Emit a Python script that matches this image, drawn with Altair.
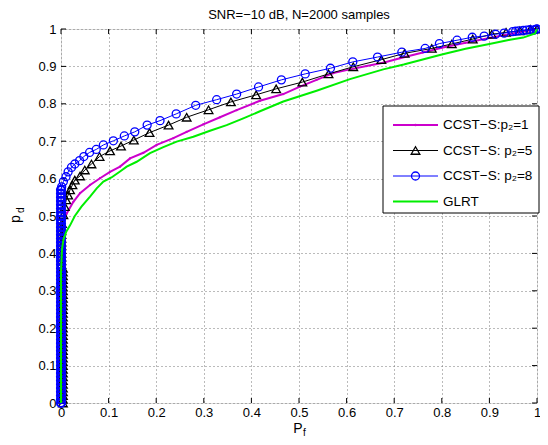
import altair as alt
import pandas as pd

# ---------------- data ----------------
tick_vals = [0.0, 0.1, 0.2, 0.3, 0.4, 0.5, 0.6, 0.7, 0.8, 0.9, 1.0]
title_text = "SNR=\u221210 dB, N=2000 samples"
legend_labels = ["CCST\u2212S:p\u2082=1", "CCST\u2212S: p\u2082=5", "CCST\u2212S: p\u2082=8", "GLRT"]

# CCST-S p2=1 (magenta, dot markers)
mag_x = [0.0, 0.0, 0.004, 0.012, 0.026, 0.040, 0.061, 0.082, 0.103, 0.124, 0.145, 0.173, 0.201,
         0.236, 0.264, 0.299, 0.334, 0.369, 0.418, 0.467, 0.502, 0.537, 0.572, 0.607, 0.642,
         0.677, 0.712, 0.760, 0.800, 0.850, 0.900, 0.950, 0.980, 1.0]
mag_y = [0.0, 0.45, 0.480, 0.507, 0.538, 0.561, 0.583, 0.601, 0.618, 0.632, 0.654, 0.669, 0.690,
         0.708, 0.725, 0.745, 0.764, 0.783, 0.808, 0.826, 0.846, 0.864, 0.882, 0.892, 0.901,
         0.910, 0.922, 0.937, 0.950, 0.963, 0.976, 0.988, 0.995, 1.0]

# CCST-S p2=5 (black, triangles)
blk_stack_x = [0.004] * 37 + [0.001] * 11
blk_stack_y = [0.00, 0.01, 0.02, 0.03, 0.04, 0.05, 0.06, 0.07, 0.08, 0.09, 0.10, 0.11, 0.12,
               0.13, 0.14, 0.15, 0.16, 0.17, 0.18, 0.19, 0.20, 0.21, 0.22, 0.23, 0.24, 0.25,
               0.26, 0.27, 0.28, 0.29, 0.30, 0.31, 0.32, 0.33, 0.34, 0.35, 0.36, 0.37, 0.38,
               0.39, 0.40, 0.41, 0.42, 0.43, 0.44, 0.45, 0.46, 0.47]
blk_x = [0.002, 0.005, 0.008, 0.011, 0.015, 0.019, 0.024, 0.029, 0.040, 0.050, 0.064, 0.081,
         0.103, 0.126, 0.153, 0.186, 0.226, 0.264, 0.310, 0.357, 0.410, 0.452, 0.507, 0.562,
         0.614, 0.673, 0.722, 0.779, 0.821, 0.865, 0.905, 0.935, 0.964, 0.986, 1.0]
blk_y = [0.480, 0.503, 0.525, 0.543, 0.556, 0.570, 0.583, 0.596, 0.607, 0.623, 0.639, 0.659,
         0.674, 0.687, 0.703, 0.723, 0.743, 0.764, 0.784, 0.805, 0.824, 0.840, 0.858, 0.880,
         0.899, 0.918, 0.935, 0.948, 0.960, 0.973, 0.986, 0.991, 0.995, 0.999, 1.0]

# CCST-S p2=8 (blue, circles)
blu_stack_x = [0.0] * 58
blu_stack_y = [0.00, 0.01, 0.02, 0.03, 0.04, 0.05, 0.06, 0.07, 0.08, 0.09, 0.10, 0.11, 0.12,
               0.13, 0.14, 0.15, 0.16, 0.17, 0.18, 0.19, 0.20, 0.21, 0.22, 0.23, 0.24, 0.25,
               0.26, 0.27, 0.28, 0.29, 0.30, 0.31, 0.32, 0.33, 0.34, 0.35, 0.36, 0.37, 0.38,
               0.39, 0.40, 0.41, 0.42, 0.43, 0.44, 0.45, 0.46, 0.47, 0.48, 0.49, 0.50, 0.51,
               0.52, 0.53, 0.54, 0.55, 0.56, 0.57]
blu_x = [0.0014, 0.005, 0.0105, 0.015, 0.022, 0.029, 0.039, 0.048, 0.060, 0.074, 0.089, 0.110,
         0.133, 0.155, 0.181, 0.208, 0.242, 0.283, 0.327, 0.369, 0.415, 0.463, 0.513, 0.566,
         0.613, 0.665, 0.716, 0.765, 0.795, 0.832, 0.864, 0.889, 0.913, 0.931, 0.949, 0.955,
         0.962, 0.971, 0.978, 0.985, 0.993, 0.997, 1.0]
blu_y = [0.578, 0.592, 0.605, 0.618, 0.630, 0.639, 0.648, 0.659, 0.670, 0.678, 0.690, 0.701,
         0.714, 0.725, 0.743, 0.755, 0.773, 0.796, 0.811, 0.826, 0.845, 0.864, 0.880, 0.895,
         0.912, 0.925, 0.938, 0.948, 0.961, 0.970, 0.978, 0.981, 0.986, 0.989, 0.993, 0.994,
         0.995, 0.996, 0.997, 0.998, 0.997, 0.999, 1.0]

# GLRT (green)
grn_x = [0.0, 0.0, 0.002, 0.005, 0.011, 0.019, 0.029, 0.043, 0.061, 0.075, 0.089, 0.106, 0.124,
         0.138, 0.159, 0.187, 0.215, 0.243, 0.278, 0.313, 0.348, 0.383, 0.418, 0.467, 0.537,
         0.607, 0.677, 0.720, 0.800, 0.850, 0.900, 0.943, 0.971, 0.996, 1.0]
grn_y = [0.0, 0.350, 0.410, 0.436, 0.458, 0.475, 0.500, 0.525, 0.552, 0.574, 0.592, 0.603, 0.619,
         0.632, 0.645, 0.668, 0.684, 0.699, 0.712, 0.728, 0.743, 0.761, 0.780, 0.806, 0.835,
         0.866, 0.892, 0.905, 0.932, 0.947, 0.960, 0.971, 0.977, 0.988, 1.0]

# ---------------- layout ----------------
W, H = 476, 374
FONT = "Liberation Sans"
MAG, BLK, BLU, GRN = "#cc00cc", "#000000", "#0000ff", "#00ee00"

xs = alt.Scale(domain=[0, 1], nice=False, zero=False)
ys = alt.Scale(domain=[0, 1], nice=False, zero=False)

X_AX = alt.Axis(values=tick_vals, format="~g", grid=True, ticks=False, domain=False,
                gridColor="#777", gridDash=[1, 3], gridWidth=1,
                labelFont=FONT, labelFontSize=13, labelColor="#000",
                labelPadding=3, title=None, labelFlush=False)
Y_AX = alt.Axis(values=tick_vals, format="~g", grid=True, ticks=False, domain=False,
                gridColor="#777", gridDash=[1, 3], gridWidth=1,
                labelFont=FONT, labelFontSize=13, labelColor="#000",
                labelPadding=5, title=None, labelFlush=False)


def frame(xv, yv):
    return pd.DataFrame({"x": xv, "y": yv, "i": list(range(len(xv)))})


def enc(ch):
    return ch.encode(x=alt.X("x:Q", scale=xs, axis=X_AX),
                     y=alt.Y("y:Q", scale=ys, axis=Y_AX),
                     order="i:Q")


ticks_df = pd.DataFrame({"t": tick_vals})

# inward ticks on all four sides
tk_b = alt.Chart(ticks_df).mark_rule(color="black").encode(
    x=alt.X("t:Q", scale=xs, axis=X_AX), y=alt.value(H), y2=alt.value(H - 5))
tk_t = alt.Chart(ticks_df).mark_rule(color="black").encode(
    x=alt.X("t:Q", scale=xs, axis=X_AX), y=alt.value(0), y2=alt.value(5))
tk_l = alt.Chart(ticks_df).mark_rule(color="black").encode(
    y=alt.Y("t:Q", scale=ys, axis=Y_AX), x=alt.value(0), x2=alt.value(5))
tk_r = alt.Chart(ticks_df).mark_rule(color="black").encode(
    y=alt.Y("t:Q", scale=ys, axis=Y_AX), x=alt.value(W), x2=alt.value(W - 5))

mag_line = enc(alt.Chart(frame(mag_x, mag_y)).mark_line(color=MAG, strokeWidth=2))
mag_pts = enc(alt.Chart(frame(mag_x, mag_y)).mark_point(
    shape="circle", filled=True, color=MAG, size=5, opacity=1))

blk_all_x = blk_stack_x + blk_x
blk_all_y = blk_stack_y + blk_y
blk_line = enc(alt.Chart(frame(blk_all_x, blk_all_y)).mark_line(color=BLK, strokeWidth=1))
blk_pts = enc(alt.Chart(frame(blk_all_x, blk_all_y)).mark_point(
    shape="triangle-up", filled=False, color=BLK, size=75, strokeWidth=1.3, opacity=1))

blu_all_x = blu_stack_x + blu_x
blu_all_y = blu_stack_y + blu_y
blu_line = enc(alt.Chart(frame(blu_all_x, blu_all_y)).mark_line(color=BLU, strokeWidth=1))
blu_stack = enc(alt.Chart(frame(blu_stack_x, blu_stack_y)).mark_point(
    shape="circle", filled=False, color=BLU, size=64, strokeWidth=2.2, opacity=1))
blu_pts = enc(alt.Chart(frame(blu_x, blu_y)).mark_point(
    shape="circle", filled=False, color=BLU, size=64, strokeWidth=1.3, opacity=1))

grn_line = enc(alt.Chart(frame(grn_x, grn_y)).mark_line(color=GRN, strokeWidth=2))

# title and axis titles as text
title = alt.Chart(pd.DataFrame({"s": [title_text]})).mark_text(
    font=FONT, fontSize=13, color="black", align="center", baseline="middle").encode(
    text="s:N", x=alt.value(W / 2), y=alt.value(-14))
xt_main = alt.Chart(pd.DataFrame({"s": ["P"]})).mark_text(
    font=FONT, fontSize=14, align="center", baseline="middle").encode(
    text="s:N", x=alt.value(W / 2 - 1), y=alt.value(H + 26))
xt_sub = alt.Chart(pd.DataFrame({"s": ["f"]})).mark_text(
    font=FONT, fontSize=10, align="left", baseline="middle").encode(
    text="s:N", x=alt.value(W / 2 + 4), y=alt.value(H + 30))
yt_main = alt.Chart(pd.DataFrame({"s": ["p"]})).mark_text(
    font=FONT, fontSize=14, align="center", baseline="middle", angle=270).encode(
    text="s:N", x=alt.value(-45), y=alt.value(H / 2 + 3))
yt_sub = alt.Chart(pd.DataFrame({"s": ["d"]})).mark_text(
    font=FONT, fontSize=10, align="left", baseline="middle", angle=270).encode(
    text="s:N", x=alt.value(-40), y=alt.value(H / 2 - 3))

# legend (drawn manually, inside the plot, overlapping right edge)
LX1, LX2, LY1, LY2 = 322, 478, 77, 184
leg_box = alt.Chart(pd.DataFrame({"a": [0]})).mark_rect(
    fill="white", stroke="black", strokeWidth=1).encode(
    x=alt.value(LX1), x2=alt.value(LX2), y=alt.value(LY1), y2=alt.value(LY2))

leg_rows = [96, 121.5, 147, 172.5]
leg_colors = [MAG, BLK, BLU, GRN]
leg_widths = [2, 1, 1, 2]
leg_layers = []
for k in range(4):
    row = pd.DataFrame({"lab": [legend_labels[k]]})
    ry = leg_rows[k]
    leg_layers.append(alt.Chart(row).mark_rule(color=leg_colors[k], strokeWidth=leg_widths[k]).encode(
        x=alt.value(332), x2=alt.value(377), y=alt.value(ry)))
    if k == 0:
        leg_layers.append(alt.Chart(row).mark_point(shape="circle", filled=True, color=MAG,
                                                    size=6, opacity=1).encode(
            x=alt.value(354.5), y=alt.value(ry)))
    if k == 1:
        leg_layers.append(alt.Chart(row).mark_point(shape="triangle-up", filled=False, color=BLK,
                                                    size=75, strokeWidth=1.3, opacity=1).encode(
            x=alt.value(354.5), y=alt.value(ry)))
    if k == 2:
        leg_layers.append(alt.Chart(row).mark_point(shape="circle", filled=False, color=BLU,
                                                    size=64, strokeWidth=1.3, opacity=1).encode(
            x=alt.value(354.5), y=alt.value(ry)))
    leg_layers.append(alt.Chart(row).mark_text(font=FONT, fontSize=13.5, align="left",
                                               baseline="middle", color="black").encode(
        text="lab:N", x=alt.value(382), y=alt.value(ry)))

chart = alt.layer(
    tk_b, tk_t, tk_l, tk_r,
    mag_line, mag_pts, blk_line, blk_pts, blu_line, blu_stack, blu_pts, grn_line,
    title, xt_main, xt_sub, yt_main, yt_sub,
    leg_box, *leg_layers
).properties(
    width=W, height=H,
    autosize=alt.AutoSizeParams(type="none"),
    padding={"left": 53, "top": 21, "right": 3, "bottom": 34},
).configure_view(stroke="black", strokeWidth=1).configure(background="white")

chart.save("out.html", embed_options={"renderer": "svg", "actions": False})
